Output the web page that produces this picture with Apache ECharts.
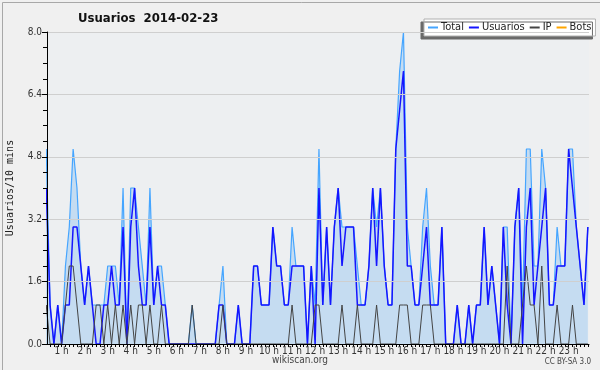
<!DOCTYPE html>
<html><head><meta charset="utf-8">
<script src="https://cdn.jsdelivr.net/npm/echarts@6/dist/echarts.min.js"></script>
<style>html,body{margin:0;padding:0;background:#f0f0f0}#c{width:600px;height:370px}</style>
</head><body><div id="c"></div>
<script>
// 10-minute slots, index 0 = 00:00 ... 143 = 23:50
const hourLabels = [1,2,3,4,5,6,7,8,9,10,11,12,13,14,15,16,17,18,19,20,21,22,23];
const yTicks = [0, 1.6, 3.2, 4.8, 6.4, 8.0];
const total = [4,3,5,1,0,1,0,2,3,5, 4,2,1,2,1,1,1,1,2,2, 2,1,4,0,4,4,3,2,1,4, 1,2,2,1,0,0,0,0,0,0,
  1,0,0,0,0,0,0,1,2,0, 0,0,1,0,0,0,2,2,1,1, 1,3,2,2,1,1,3,2,2,2, 0,2,1,5,1,3,1,3,4,3,
  3,3,3,2,1,1,2,4,3,4, 2,1,1,5,7,8,3,2,1,1, 3,4,2,1,1,3,0,0,0,1, 0,0,1,0,1,1,3,1,2,1,
  0,3,3,0,3,4,1,5,5,2, 2,5,4,1,1,3,2,2,5,5, 3,2,1,3];
const usuarios = [3,3,4,1,0,1,0,1,1,3, 3,2,1,2,1,0,0,1,1,2, 1,1,3,0,3,4,2,1,1,3, 1,2,1,1,0,0,0,0,0,0,
  0,0,0,0,0,0,0,1,1,0, 0,0,1,0,0,0,2,2,1,1, 1,3,2,2,1,1,2,2,2,2, 0,2,0,4,1,3,1,3,4,2,
  3,3,3,1,1,1,2,4,2,4, 2,1,1,5,6,7,2,2,1,1, 2,3,1,1,1,3,0,0,0,1, 0,0,1,0,1,1,3,1,2,1,
  0,3,1,0,3,4,0,3,4,1, 2,3,4,1,1,2,2,2,5,4, 3,2,1,3];
const ip = [1,0,1,0,0,0,0,1,2,2, 1,0,0,0,0,1,1,0,1,0, 1,0,1,0,1,0,1,1,0,1, 0,0,1,0,0,0,0,0,0,0,
  1,0,0,0,0,0,0,0,1,0, 0,0,0,0,0,0,0,0,0,0, 0,0,0,0,0,0,1,0,0,0, 0,0,1,1,0,0,0,0,0,1,
  0,0,0,1,0,0,0,0,1,0, 0,0,0,0,1,1,1,0,0,0, 1,1,1,0,0,0,0,0,0,0, 0,0,0,0,0,0,0,0,0,0,
  0,0,2,0,0,0,1,2,1,1, 0,2,0,0,0,1,0,0,0,1, 0,0,0,0];
const bots = new Array(144).fill(0);

const toPts = arr => arr.map((v, i) => [i, v]);
const tickVals = []; for (let i = 3; i <= 143; i++) tickVals.push(i);
const labelVals = hourLabels.map(h => h * 6);
const condensed = '"DejaVu Sans Condensed", "DejaVu Sans", sans-serif';

const chart = echarts.init(document.getElementById('c'));
chart.setOption({
  backgroundColor: '#f0f0f0',
  animation: false,
  title: { text: 'Usuarios  2014-02-23', left: 73, top: 7,
    textStyle: { fontFamily: condensed, fontWeight: 'bold', fontSize: 13, color: '#111' } },
  legend: {
    left: 424, top: 19, padding: [3, 4, 3, 4], itemGap: 5, itemWidth: 10, itemHeight: 2,
    backgroundColor: '#ffffff', borderColor: '#b0b0b0', borderWidth: 1,
    shadowColor: '#6a6a6a', shadowBlur: 0, shadowOffsetX: -3, shadowOffsetY: 3,
    icon: 'rect',
    textStyle: { fontFamily: condensed, fontSize: 11, color: '#222', padding: [0, 0, 0, -2] },
    data: ['Total', 'Usuarios', 'IP', 'Bots']
  },
  grid: { left: 47, top: 32, width: 542, height: 312, outerBoundsMode: 'none', containLabel: false,
    show: true, backgroundColor: '#edeff1', borderWidth: 0 },
  xAxis: {
    type: 'value', min: 2.2, max: 143.3, z: 5,
    axisLine: { show: true, lineStyle: { color: '#000', width: 1 } },
    axisTick: { show: true, length: 3, lineStyle: { color: '#000' }, customValues: tickVals },
    axisLabel: { customValues: labelVals, formatter: v => (v / 6) + ' h', margin: 2,
      fontFamily: condensed, fontSize: 10, color: '#333' },
    splitLine: { show: false }
  },
  yAxis: {
    type: 'value', min: 0, max: 8, interval: 1.6, z: 5,
    name: 'Usuarios/10 mins', nameLocation: 'middle', nameGap: 32, nameRotate: 90,
    nameTextStyle: { fontFamily: '"DejaVu Sans Mono", monospace', fontSize: 10, color: '#222' },
    axisLine: { show: true, lineStyle: { color: '#000', width: 1 } },
    axisTick: { show: true, length: 5, lineStyle: { color: '#000' } },
    minorTick: { show: true, splitNumber: 4, length: 4, lineStyle: { color: '#000' } },
    axisLabel: { formatter: v => v.toFixed(1), margin: 5, fontFamily: condensed, fontSize: 10, color: '#333' },
    splitLine: { show: true, lineStyle: { color: '#cfcfcf', width: 1 } }
  },
  graphic: [
    { type: 'text', left: 'center', top: 355, style: { text: 'wikiscan.org', fontFamily: condensed, fontSize: 10, fill: '#444' } },
    { type: 'text', right: 9, top: 358, style: { text: 'CC BY-SA 3.0', fontFamily: condensed, fontSize: 8, fill: '#444' } },
    { type: 'rect', left: 0, top: 0, shape: { width: 599, height: 369 }, style: { fill: 'none', stroke: '#a8a8a8', lineWidth: 1 }, silent: true }
  ],
  series: [
    { name: 'Total', type: 'line', data: toPts(total), showSymbol: false, color: '#45a5ff',
      lineStyle: { width: 1.2, color: '#45a5ff' }, areaStyle: { color: '#c5dcf1', opacity: 1 } },
    { name: 'Usuarios', type: 'line', data: toPts(usuarios), showSymbol: false, color: '#1515ff',
      lineStyle: { width: 1.5, color: '#1515ff' } },
    { name: 'IP', type: 'line', data: toPts(ip), showSymbol: false, color: '#444444',
      lineStyle: { width: 1, color: '#444444' } },
    { name: 'Bots', type: 'line', data: toPts(bots), showSymbol: false, color: '#ffa500', z: 1,
      lineStyle: { width: 1, color: '#ffa500' } }
  ]
});
</script></body></html>
